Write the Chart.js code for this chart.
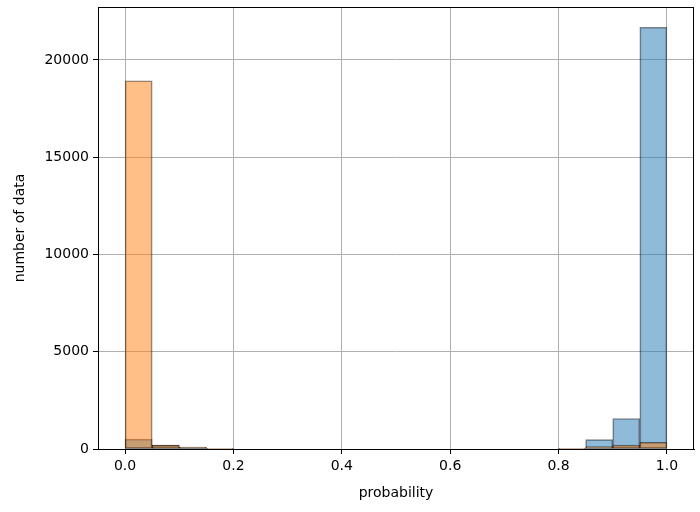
<!DOCTYPE html>
<html>
<head>
<meta charset="utf-8">
<script src="https://cdn.jsdelivr.net/npm/chart.js@4"></script>
<style>
  html, body { margin: 0; padding: 0; background: #fff; }
  #wrap { width: 700px; height: 512px; }
</style>
</head>
<body>
<div id="wrap"><canvas id="histChart" width="700" height="512"></canvas></div>
<script>
// bin centers (bin width 0.05, 20 bins from 0 to 1)
const binCenters = [0.025, 0.075, 0.125, 0.175, 0.225, 0.275, 0.325, 0.375, 0.425, 0.475,
                    0.525, 0.575, 0.625, 0.675, 0.725, 0.775, 0.825, 0.875, 0.925, 0.975];
const blueCounts = [510, 200, 100, 40, 0, 0, 0, 0, 0, 0,
                    0, 0, 0, 0, 0, 0, 30, 480, 1570, 21680];
const orangeCounts = [18930, 200, 100, 40, 0, 0, 0, 0, 0, 0,
                      0, 0, 0, 0, 0, 0, 20, 120, 200, 340];
const xTicks = [0.0, 0.2, 0.4, 0.6, 0.8, 1.0];
const yTicks = [0, 5000, 10000, 15000, 20000];

const font = { family: 'DejaVu Sans', size: 14 };

// draws the full box around the plot area like matplotlib spines
const frameBox = {
    id: 'frameBox',
    afterDraw(chart) {
        const { ctx, chartArea } = chart;
        ctx.save();
        ctx.strokeStyle = '#000';
        ctx.lineWidth = 1;
        ctx.strokeRect(Math.round(chartArea.left) + 0.5, Math.round(chartArea.top) + 0.5,
            Math.round(chartArea.right - chartArea.left) - 1, Math.round(chartArea.bottom - chartArea.top));
        ctx.restore();
    }
};

const toPoints = (arr) => arr.map((v, i) => ({ x: binCenters[i], y: v }));

const ctx = document.getElementById('histChart').getContext('2d');
new Chart(ctx, {
    type: 'bar',
    data: {
        datasets: [{
            label: 'orange',
            data: toPoints(orangeCounts),
            backgroundColor: 'rgba(255, 127, 14, 0.5)',
            borderColor: 'rgba(0, 0, 0, 0.5)',
            borderWidth: 1,
            borderSkipped: false,
            grouped: false,
            barPercentage: 1,
            categoryPercentage: 1
        }, {
            label: 'blue',
            data: toPoints(blueCounts),
            backgroundColor: 'rgba(31, 119, 180, 0.5)',
            borderColor: 'rgba(0, 0, 0, 0.5)',
            borderWidth: 1,
            borderSkipped: false,
            grouped: false,
            barPercentage: 1,
            categoryPercentage: 1
        }]
    },
    options: {
        responsive: false,
        animation: false,
        layout: { padding: { top: 7, right: 6, left: 12, bottom: 10 } },
        plugins: { legend: { display: false }, tooltip: { enabled: false } },
        scales: {
            x: {
                type: 'linear',
                offset: false,
                min: -0.05,
                max: 1.05,
                afterBuildTicks: (axis) => { axis.ticks = xTicks.map(v => ({ value: v })); },
                afterFit: (axis) => { axis.height = 53; axis.paddingLeft = 0; axis.paddingRight = 0; },
                ticks: {
                    color: '#000',
                    font: font,
                    padding: 4,
                    maxRotation: 0,
                    autoSkip: false,
                    callback: (v) => Number(v).toFixed(1)
                },
                grid: { offset: false, color: '#b0b0b0', lineWidth: 1, tickColor: '#000', tickLength: 5 },
                border: { color: '#000', width: 1 },
                title: { display: true, text: 'probability', color: '#000', font: font, padding: { top: 2, bottom: 0 } }
            },
            y: {
                min: 0,
                max: 22720,
                afterBuildTicks: (axis) => { axis.ticks = yTicks.map(v => ({ value: v })); },
                afterFit: (axis) => { axis.width = 86; axis.paddingTop = 0; axis.paddingBottom = 0; },
                ticks: { color: '#000', font: font, padding: 4, callback: (v) => String(v) },
                grid: { color: '#b0b0b0', lineWidth: 1, tickColor: '#000', tickLength: 5 },
                border: { color: '#000', width: 1 },
                title: { display: true, text: 'number of data', color: '#000', font: font, padding: { top: 0, bottom: 4 } }
            }
        }
    },
    plugins: [frameBox]
});
</script>
</body>
</html>
